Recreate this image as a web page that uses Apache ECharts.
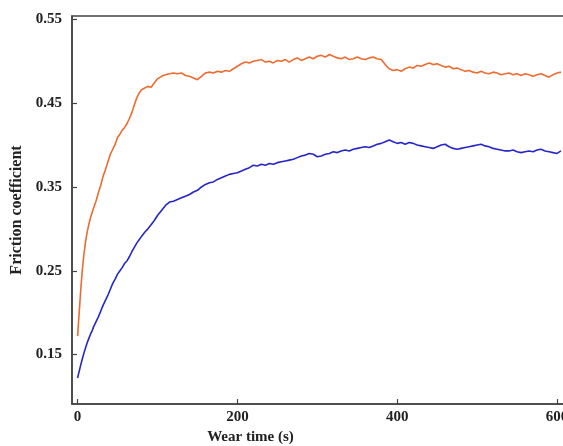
<!DOCTYPE html>
<html>
<head>
<meta charset="utf-8">
<script src="https://cdn.jsdelivr.net/npm/echarts@6/dist/echarts.min.js"></script>
<style>html,body{margin:0;padding:0;background:#fff}#c{width:563px;height:446px}</style>
</head>
<body>
<div id="c"></div>
<script>
var timeS = [0,1,2,3,4,6,8,10,12,14,16,18,20,23,26,29,32,35,38,41,44,47,50,53,56,59,62,65,68,71,74,77,80,84,88,92,96,100,
105,110,115,120,125,130,135,140,145,150,155,160,165,170,175,180,185,190,195,200,
205,210,215,220,225,230,235,240,245,250,255,260,265,270,275,280,285,290,295,300,
305,310,315,320,325,330,335,340,345,350,355,360,365,370,375,380,385,390,395,400,
405,410,415,420,425,430,435,440,445,450,455,460,465,470,475,480,485,490,495,500,
505,510,515,520,525,530,535,540,545,550,555,560,565,570,575,580,585,590,595,600,605];

var frictionOrange = [0.172,0.186,0.200,0.214,0.228,0.252,0.270,0.285,0.296,0.305,0.313,0.319,0.325,0.333,0.343,0.352,0.363,0.371,0.380,0.389,0.395,0.401,0.409,0.413,0.418,0.421,0.426,0.432,0.439,0.448,0.456,0.462,0.466,0.468,0.470,0.469,0.474,0.479,
0.482,0.484,0.485,0.486,0.485,0.486,0.483,0.482,0.480,0.478,0.482,0.486,0.487,0.486,0.488,0.487,0.489,0.488,0.491,0.494,
0.497,0.499,0.498,0.500,0.501,0.502,0.499,0.500,0.498,0.501,0.500,0.502,0.499,0.502,0.504,0.501,0.503,0.505,0.503,0.506,
0.507,0.505,0.508,0.506,0.504,0.503,0.505,0.502,0.503,0.505,0.503,0.502,0.504,0.505,0.503,0.502,0.496,0.491,0.489,0.490,
0.488,0.491,0.493,0.492,0.495,0.494,0.496,0.498,0.496,0.497,0.495,0.493,0.494,0.491,0.492,0.490,0.488,0.489,0.487,0.486,
0.488,0.486,0.485,0.487,0.486,0.484,0.485,0.486,0.484,0.485,0.483,0.485,0.484,0.482,0.484,0.485,0.483,0.481,0.484,0.486,0.487];

var frictionBlue = [0.122,0.126,0.130,0.134,0.138,0.145,0.152,0.158,0.164,0.169,0.174,0.178,0.183,0.189,0.195,0.202,0.209,0.215,0.221,0.228,0.235,0.240,0.246,0.250,0.254,0.259,0.262,0.267,0.273,0.278,0.283,0.287,0.291,0.296,0.300,0.305,0.310,0.316,
0.322,0.328,0.332,0.333,0.335,0.337,0.339,0.341,0.344,0.346,0.350,0.353,0.355,0.356,0.359,0.361,0.363,0.365,0.366,0.367,
0.369,0.371,0.373,0.376,0.375,0.377,0.376,0.378,0.377,0.379,0.380,0.381,0.382,0.383,0.385,0.387,0.388,0.390,0.389,0.386,
0.387,0.389,0.390,0.392,0.391,0.393,0.394,0.393,0.395,0.396,0.397,0.398,0.397,0.399,0.401,0.402,0.404,0.406,0.404,0.402,
0.403,0.401,0.403,0.402,0.400,0.399,0.398,0.397,0.396,0.398,0.400,0.401,0.398,0.396,0.395,0.396,0.397,0.398,0.399,0.400,
0.401,0.399,0.398,0.396,0.395,0.394,0.393,0.393,0.394,0.392,0.391,0.392,0.393,0.392,0.394,0.395,0.393,0.392,0.391,0.390,0.393];

var xTicks = [0, 200, 400, 600];
var yTicks = [0.15, 0.25, 0.35, 0.45, 0.55];

function pairs(xs, ys) { return xs.map(function (x, i) { return [x, ys[i]]; }); }

var chart = echarts.init(document.getElementById('c'), null, { renderer: 'canvas' });
var font = '"Liberation Serif", "Times New Roman", serif';
chart.setOption({
  animation: false,
  backgroundColor: '#ffffff',
  grid: { left: 72, top: 16, width: 501, height: 388, outerBoundsMode: 'none', containLabel: false,
    show: true, borderColor: '#444', borderWidth: 1.5, backgroundColor: 'transparent' },
  xAxis: {
    type: 'value', min: -7, max: 620,
    name: 'Wear time (s)', nameLocation: 'middle', nameGap: 26,
    nameTextStyle: { fontFamily: font, fontWeight: 'bold', fontSize: 15, color: '#222', padding: [0, 144, 0, 0] },
    axisLine: { show: true, onZero: false, lineStyle: { color: '#444', width: 1.5 } },
    axisTick: { show: true, inside: true, length: 5, customValues: xTicks, lineStyle: { color: '#444', width: 1.2 } },
    axisLabel: { customValues: xTicks, margin: 6, fontFamily: font, fontWeight: 'bold', fontSize: 15, color: '#222' },
    splitLine: { show: false }
  },
  yAxis: {
    type: 'value', min: 0.091, max: 0.554,
    name: 'Friction coefficient', nameLocation: 'middle', nameGap: 44,
    nameTextStyle: { fontFamily: font, fontWeight: 'bold', fontSize: 16, color: '#222' },
    axisLine: { show: true, onZero: false, lineStyle: { color: '#444', width: 1.5 } },
    axisTick: { show: true, inside: true, length: 5, customValues: yTicks, lineStyle: { color: '#444', width: 1.2 } },
    axisLabel: { customValues: yTicks, margin: 10, fontFamily: font, fontWeight: 'bold', fontSize: 15, color: '#222',
      formatter: function (v) { return v.toFixed(2); } },
    splitLine: { show: false }
  },
  series: [
    { name: 'Orange', type: 'line', data: pairs(timeS, frictionOrange), showSymbol: false, clip: true,
      lineStyle: { color: '#EE6B2F', width: 1.6 } },
    { name: 'Blue', type: 'line', data: pairs(timeS, frictionBlue), showSymbol: false, clip: true,
      lineStyle: { color: '#2626C8', width: 1.6 } }
  ]
});
</script>
</body>
</html>
